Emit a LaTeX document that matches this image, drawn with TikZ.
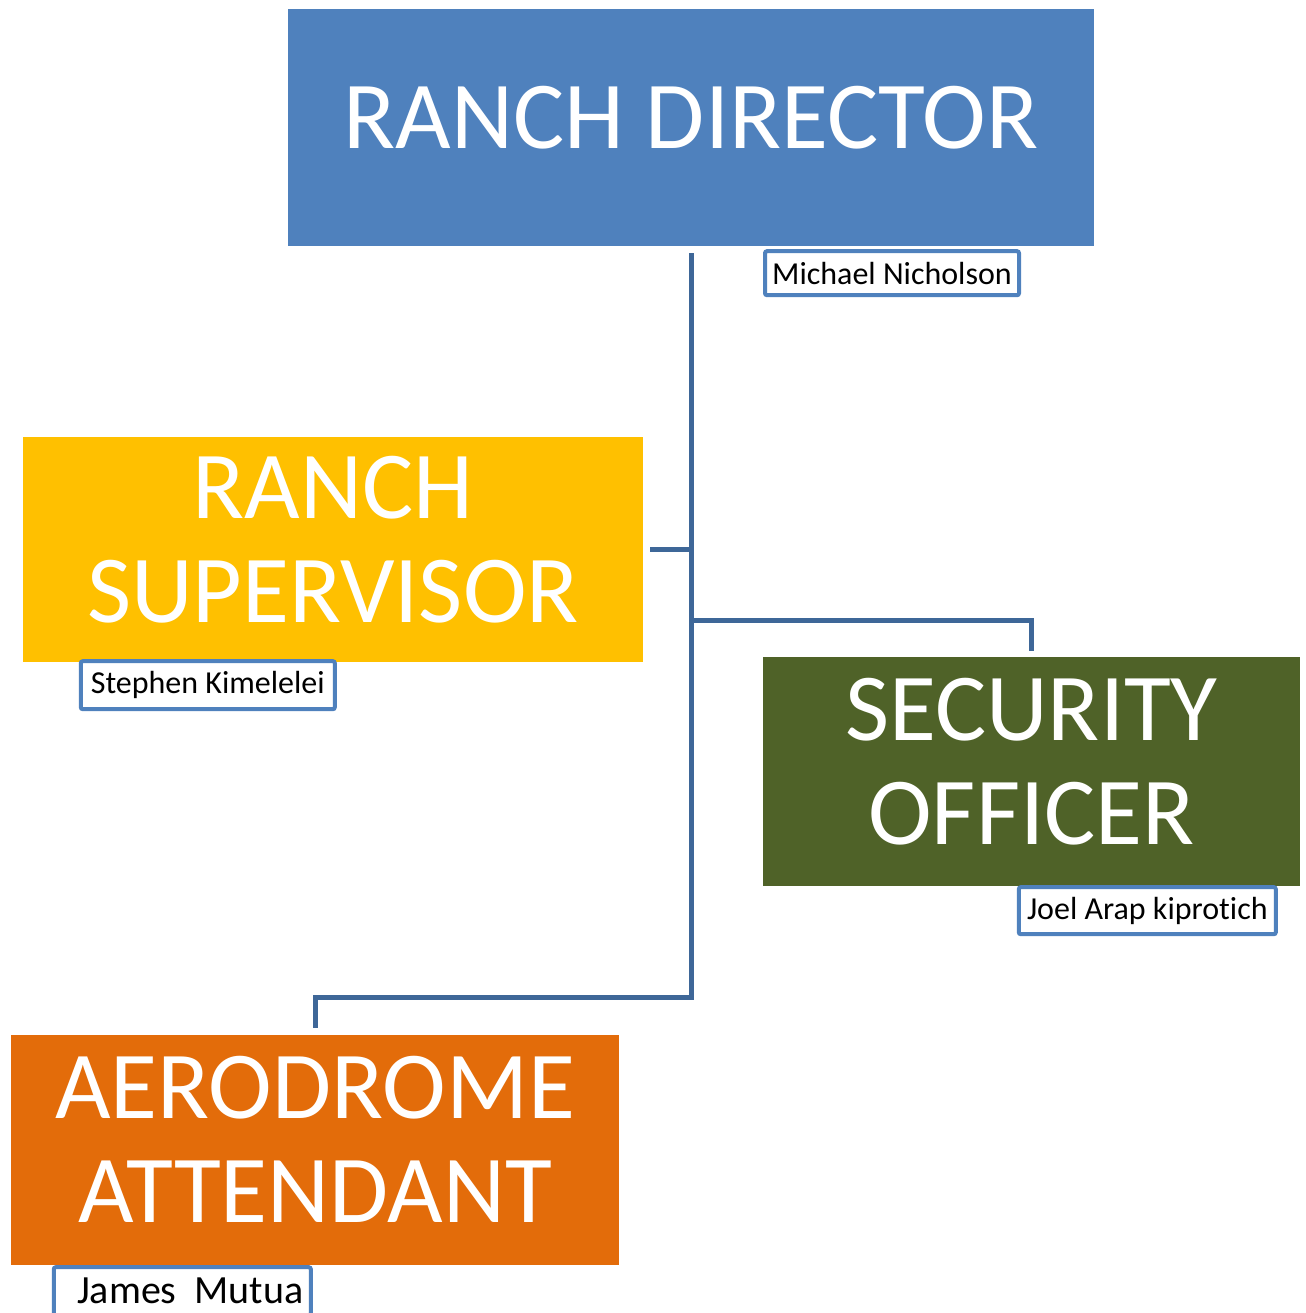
\documentclass[tikz,border=0pt]{standalone}
\usepackage{fontspec}
\setmainfont{Carlito}[Ligatures=CommonOff]
\usepackage{tikz}
\usetikzlibrary{positioning}

\definecolor{directorblue}{HTML}{4F81BD}
\definecolor{supervisoryellow}{HTML}{FFC000}
\definecolor{securitygreen}{HTML}{4F6228}
\definecolor{aerodromeorange}{HTML}{E36C0A}
\definecolor{linkblue}{RGB}{62,103,152}

\begin{document}
\begin{tikzpicture}[x=1pt, y=-1pt]
    \tikzstyle{post} = [shape=rectangle, inner sep=0pt, text=white, align=center, text depth=21pt, font=\fontsize{96}{104}\selectfont];
    \tikzstyle{namebox} = [draw=directorblue, line width=4pt, rounded corners=2pt, fill=white, shape=rectangle, inner sep=0pt, minimum width=254pt, minimum height=46pt, font=\fontsize{32}{35}\selectfont];
    \tikzstyle{link} = [draw=linkblue, line width=5pt, line join=miter];

    \useasboundingbox (0,0) rectangle (1305,1313);

    % Nodes
    \node [post, fill=directorblue, minimum width=806pt, minimum height=237pt] (director) at (691,127.5) {RANCH DIRECTOR};
    \node [post, fill=supervisoryellow, minimum width=620pt, minimum height=225pt] (supervisor) at (333,549.5) {RANCH\\SUPERVISOR};
    \node [post, fill=securitygreen, minimum width=537pt, minimum height=229pt] (security) at (1031.5,771.5) {SECURITY\\OFFICER};
    \node [post, fill=aerodromeorange, minimum width=608pt, minimum height=230pt] (aerodrome) at (315,1150) {AERODROME\\ATTENDANT};

    \node [namebox, minimum height=44pt, below right=3pt and 72pt of director.south] (nicholson) {Michael Nicholson};
    \node [namebox, minimum height=48pt, below right=-3pt and 56pt of supervisor.south west] (kimelelei) {Stephen Kimelelei};
    \node [namebox, minimum width=257pt, minimum height=47pt, below right=-1pt and 254pt of security.south west] (kiprotich) {Joel Arap kiprotich};
    \node [namebox, minimum width=257pt, minimum height=48pt, below right=0pt and 41pt of aerodrome.south west, font=\fontsize{40}{44}\selectfont] (mutua) {\hspace{16pt}James\ \ Mutua};

    \coordinate (tee) at (691,620);
    \coordinate (fork) at (691,997);

    % Paths
    \draw [link] ([yshift=-7pt]director.south) -- (fork) -| ([yshift=7pt]aerodrome.north);
    \draw [link] ([xshift=7pt]supervisor.east) -- (supervisor.east -| fork);
    \draw [link] (tee) -| ([yshift=6pt]security.north);
\end{tikzpicture}
\end{document}
